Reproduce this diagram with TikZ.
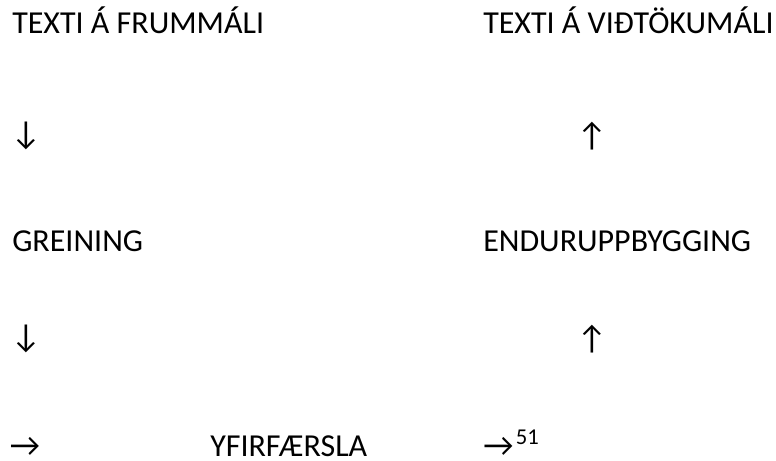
\documentclass[tikz,border=0pt]{standalone}
\usepackage{fontspec}
\setmainfont{Carlito}
\usetikzlibrary{positioning}

\begin{document}
\begin{tikzpicture}[
  x=0.75pt, y=-0.75pt,
  lbl/.style={anchor=base west, inner sep=0pt, font=\fontsize{24}{29}\selectfont},
  arw/.style={anchor=center, inner sep=0pt, font=\fontsize{25}{30}\selectfont}
]
  \useasboundingbox (0,0) rectangle (776,461);

  % left column
  \node[lbl] (src) at (12,33) {TEXTI Á FRUMMÁLI};
  \node[lbl] (grein) at (12,251) {GREINING};
  % right column
  \node[lbl] (tgt) at (483,33) {TEXTI Á VIÐTÖKUMÁLI};
  \node[lbl] (endur) at (483,251) {ENDURUPPBYGGING};
  % bottom row
  \node[lbl] (yfir) at (210,456) {YFIRFÆRSLA};

  \foreach \r/\y in {1/136, 2/339} {
    \node[arw] (dn\r) at (26,\y) {↓};
    \node[arw] (up\r) at (592,\y) {↑};
  }
  \node[arw] (rt1) at (25,447) {→};
  \node[arw, anchor=west] (rt2) at (483,447) {→};
  \node[lbl, font=\fontsize{17}{20}\selectfont, xshift=1.5pt, yshift=2pt] (fn) at (rt2.east) {51};
\end{tikzpicture}
\end{document}
